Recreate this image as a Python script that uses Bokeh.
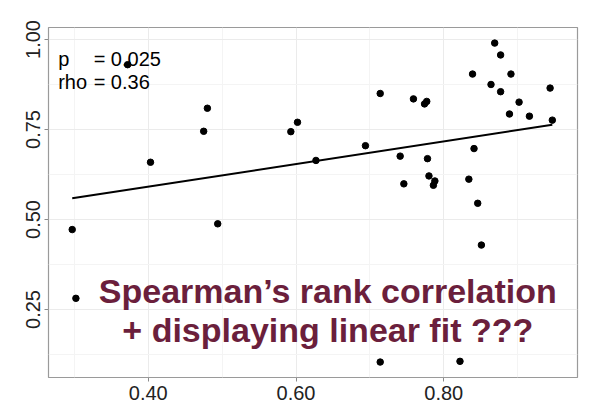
from bokeh.plotting import figure
from bokeh.models import FixedTicker, PrintfTickFormatter, Label, Range1d
from bokeh.embed import file_html
from bokeh.resources import INLINE

# data
x_vals = [0.297, 0.302, 0.372, 0.403, 0.475, 0.480, 0.494, 0.593, 0.602, 0.627,
          0.694, 0.714, 0.714, 0.741, 0.746, 0.759, 0.774, 0.777, 0.778, 0.780,
          0.788, 0.786, 0.822, 0.834, 0.839, 0.841, 0.846, 0.851, 0.864, 0.869,
          0.877, 0.877, 0.889, 0.891, 0.902, 0.916, 0.944, 0.947]
y_vals = [0.472, 0.281, 0.930, 0.659, 0.745, 0.809, 0.488, 0.744, 0.770, 0.664,
          0.705, 0.850, 0.104, 0.676, 0.599, 0.835, 0.821, 0.828, 0.669, 0.621,
          0.607, 0.595, 0.106, 0.612, 0.904, 0.697, 0.545, 0.429, 0.875, 0.990,
          0.957, 0.855, 0.793, 0.904, 0.826, 0.787, 0.865, 0.776]
fit_x = [0.297, 0.947]
fit_y = [0.559, 0.763]

x_major = [0.40, 0.60, 0.80]
x_minor = [0.30, 0.50, 0.70, 0.90]
y_major = [0.25, 0.50, 0.75, 1.00]
y_minor = [0.125, 0.375, 0.625, 0.875]

stat_names = ["p", "rho"]
stat_values = ["= 0.025", "= 0.36"]
overlay_lines = ["Spearman\u2019s rank correlation", "+ displaying linear fit ???"]

p = figure(width=586, height=410, output_backend="svg", toolbar_location=None,
           x_range=Range1d(0.2649, 0.9811), y_range=Range1d(0.0611, 1.0333),
           min_border_left=48, min_border_right=9, min_border_top=27, min_border_bottom=33)
p.background_fill_color = "white"
p.border_fill_color = "white"
p.outline_line_color = "#9a9a9a"
p.outline_line_width = 1.2

p.xaxis.ticker = FixedTicker(ticks=x_major, minor_ticks=x_minor)
p.yaxis.ticker = FixedTicker(ticks=y_major, minor_ticks=y_minor)
p.xaxis.formatter = PrintfTickFormatter(format="%.2f")
p.yaxis.formatter = PrintfTickFormatter(format="%.2f")
for ax in (p.xaxis, p.yaxis):
    ax.axis_line_color = None
    ax.major_tick_line_color = "#8a8a8a"
    ax.major_tick_out = 4
    ax.major_tick_in = 0
    ax.minor_tick_line_color = None
    ax.major_label_text_font = "Liberation Sans"
    ax.major_label_text_font_size = "20px"
    ax.major_label_text_color = "#222222"
    ax.major_label_standoff = 4
p.yaxis.major_label_orientation = "vertical"

p.xgrid.grid_line_color = "#ebebeb"
p.ygrid.grid_line_color = "#ebebeb"
p.xgrid.minor_grid_line_color = "#f4f4f4"
p.ygrid.minor_grid_line_color = "#f4f4f4"

p.line(fit_x, fit_y, line_color="black", line_width=2)
p.scatter(x_vals, y_vals, size=6.5, fill_color="black", line_color="black")

name_x = 0.278
val_x = 0.326
stat_y = [0.947, 0.881]
for nm, vl, yy in zip(stat_names, stat_values, stat_y):
    p.add_layout(Label(x=name_x, y=yy, text=nm, text_font="Liberation Sans",
                       text_font_size="20px", text_color="black", text_baseline="alphabetic"))
    p.add_layout(Label(x=val_x, y=yy, text=vl, text_font="Liberation Sans",
                       text_font_size="20px", text_color="black", text_baseline="alphabetic"))

overlay_y = [0.301, 0.192]
for txt, yy in zip(overlay_lines, overlay_y):
    p.add_layout(Label(x=0.643, y=yy, text=txt, text_font="Liberation Sans",
                       text_font_style="bold", text_font_size="34px", text_color="#6b1f3c",
                       text_align="center", text_baseline="alphabetic"))

open("out.html", "w").write(file_html(p, INLINE))
